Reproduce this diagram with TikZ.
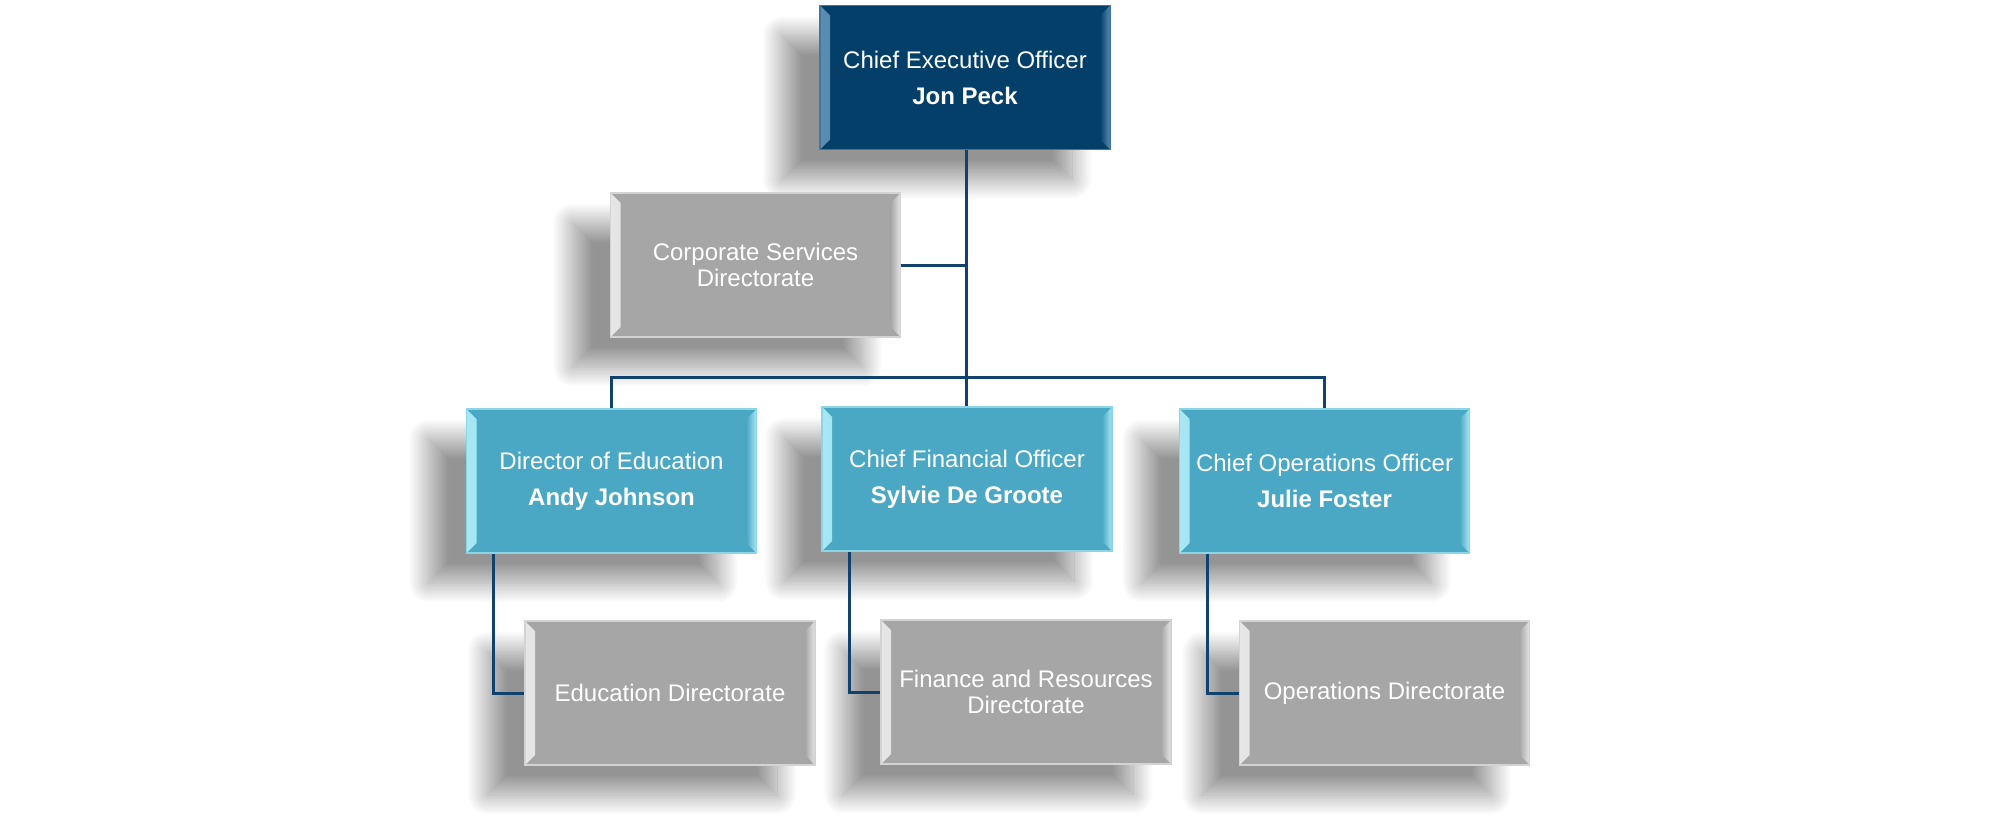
\documentclass[tikz,border=0pt]{standalone}
\usepackage{fontspec}
\setmainfont{Liberation Sans}
\usetikzlibrary{shadows.blur}

\definecolor{ceofill}{HTML}{043F6A}
\definecolor{ceoedge}{HTML}{5B8DB3}
\definecolor{headfill}{HTML}{4BA8C4}
\definecolor{headedge}{HTML}{A8E8F5}
\definecolor{dirfill}{HTML}{A6A6A6}
\definecolor{diredge}{HTML}{E6E6E6}
\definecolor{linkblue}{HTML}{11426E}

\tikzset{
  orgbox/.style 2 args={rectangle, minimum width=145pt, minimum height=72pt,
    inner sep=0pt, align=center, text=white,
    font=\fontsize{12}{13}\selectfont,
    fill=#1, draw=#2!70!#1, line width=0.6pt,
    blur shadow={shadow xshift=-19pt, shadow yshift=-15pt,
      shadow blur radius=10pt, shadow blur steps=24, shadow opacity=42},
    path picture={
      \shade[left color=#2, right color=#1]
        (path picture bounding box.south west)
        -- ([shift={(5pt,5pt)}]path picture bounding box.south west)
        -- ([shift={(5pt,-5pt)}]path picture bounding box.north west)
        -- (path picture bounding box.north west) -- cycle;
      \shade[left color=#1, right color=#2]
        (path picture bounding box.south east)
        -- ([shift={(-5pt,5pt)}]path picture bounding box.south east)
        -- ([shift={(-5pt,-5pt)}]path picture bounding box.north east)
        -- (path picture bounding box.north east) -- cycle;
    }},
  ceobox/.style={orgbox={ceofill}{ceoedge}},
  headbox/.style={orgbox={headfill}{headedge}},
  dirbox/.style={orgbox={dirfill}{diredge}},
  link/.style={draw=linkblue, line width=1.5pt}
}

\begin{document}
\begin{tikzpicture}[x=0.5pt, y=-0.5pt]
  \useasboundingbox (0,0) rectangle (2000,826);

  % top
  \node[ceobox] (ceo) at (965,77.5) {Chief Executive Officer\\[5pt]\textbf{Jon Peck}};
  \node[dirbox] (corp) at (755.5,265) {Corporate Services\\Directorate};

  % heads
  \node[headbox] (dired) at (611.5,481) {Director of Education\\[5pt]\textbf{Andy Johnson}};
  \node[headbox] (cfo) at (967,479) {Chief Financial Officer\\[5pt]\textbf{Sylvie De Groote}};
  \node[headbox] (coo) at (1324.5,481) {Chief Operations Officer\\[5pt]\textbf{Julie Foster}};

  % directorates
  \node[dirbox] (edudir) at (670,693) {Education Directorate};
  \node[dirbox] (findir) at (1026,692) {Finance and Resources\\Directorate};
  \node[dirbox] (opsdir) at (1384.5,693) {Operations Directorate};

  % connectors
  \coordinate (bus) at (966,377);
  \draw[link] (ceo.south -| bus) -- (bus);
  \draw[link] (corp.east) -- (corp.east -| bus);
  \draw[link] (dired.north) |- (bus) -| (coo.north);
  \draw[link] (bus) -- (cfo.north -| bus);

  \draw[link] ([xshift=14pt]dired.south west) |- (edudir.west);
  \draw[link] ([xshift=14pt]cfo.south west) |- (findir.west);
  \draw[link] ([xshift=14.5pt]coo.south west) |- (opsdir.west);
\end{tikzpicture}
\end{document}
